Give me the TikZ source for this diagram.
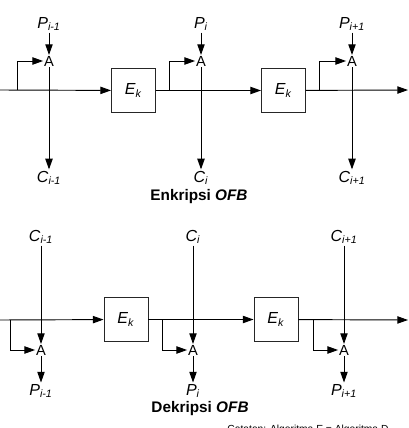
\documentclass[tikz,border=0pt]{standalone}
\usepackage{fontspec}
\setmainfont{Liberation Sans}
\usetikzlibrary{arrows.meta}
\newcommand{\sym}[2]{\textit{#1}\textsubscript{\textit{#2}}}
\begin{document}
\begin{tikzpicture}[x=0.75pt,y=-0.75pt,line width=0.7pt,
  flow/.style={-{Triangle[length=8pt,width=5.5pt]}},
  ebox/.style={draw,black!85,text=black,minimum width=33pt,minimum height=33pt,inner sep=0pt,font=\fontsize{12}{14}\selectfont},
  xop/.style={inner sep=0.4pt,font=\fontsize{11}{13}\selectfont},
  lbl/.style={inner sep=1pt,font=\fontsize{12}{14}\selectfont},
  caption/.style={font=\fontsize{11.5}{14}\selectfont\bfseries}]
\useasboundingbox (0,0) rectangle (408,428);

% enkripsi
\coordinate (in1) at (0,90);
\coordinate (out1) at (408,90);
\node[ebox] (e1) at (133.5,90.5) {\sym{E}{k}};
\node[ebox] (e2) at (283.5,90.5) {\sym{E}{k}};
\node[xop] (a1) at (49,61) {A};
\node[xop] (a2) at (201,61) {A};
\node[xop] (a3) at (352,61) {A};
\node[lbl] (p1) at (49,24) {\sym{P}{i-1}};
\node[lbl] (p2) at (201,24) {\sym{P}{i}};
\node[lbl] (p3) at (352,24) {\sym{P}{i+1}};
\node[lbl] (c1) at (49,178) {\sym{C}{i-1}};
\node[lbl] (c2) at (201,178) {\sym{C}{i}};
\node[lbl] (c3) at (352,178) {\sym{C}{i+1}};
\coordinate (f1) at (17,90);
\coordinate (f2) at (169,90);
\coordinate (f3) at (319,90);

\draw[flow] (in1) -- (e1);
\draw[flow] (e1) -- (e2);
\draw[flow] (e2) -- (out1);
\draw[flow] (f1) |- (a1.west);
\draw[flow] (f2) |- (a2.west);
\draw[flow] (f3) |- (a3.west);
\draw[flow] (p1) -- (a1);
\draw[flow] (p2) -- (a2);
\draw[flow] (p3) -- (a3);
\draw[flow] (a1) -- (c1);
\draw[flow] (a2) -- (c2);
\draw[flow] (a3) -- (c3);
\node[caption] (enk) at (199,197) {Enkripsi \textit{OFB}};

% dekripsi
\coordinate (in2) at (0,320);
\coordinate (out2) at (408,320);
\node[ebox] (e3) at (126,319.5) {\sym{E}{k}};
\node[ebox] (e4) at (276,319.5) {\sym{E}{k}};
\node[lbl] (c4) at (41,237) {\sym{C}{i-1}};
\node[lbl] (c5) at (193,237) {\sym{C}{i}};
\node[lbl] (c6) at (344,237) {\sym{C}{i+1}};
\node[xop] (a4) at (41,350) {A};
\node[xop] (a5) at (193,350) {A};
\node[xop] (a6) at (344,350) {A};
\node[lbl] (p4) at (41,391) {\sym{P}{i-1}};
\node[lbl] (p5) at (193,391) {\sym{P}{i}};
\node[lbl] (p6) at (344,391) {\sym{P}{i+1}};
\coordinate (f4) at (10,320);
\coordinate (f5) at (162,320);
\coordinate (f6) at (313,320);

\draw[flow] (in2) -- (e3);
\draw[flow] (e3) -- (e4);
\draw[flow] (e4) -- (out2);
\draw[flow] (f4) |- (a4.west);
\draw[flow] (f5) |- (a5.west);
\draw[flow] (f6) |- (a6.west);
\draw[flow] (c4) -- (a4);
\draw[flow] (c5) -- (a5);
\draw[flow] (c6) -- (a6);
\draw[flow] (a4) -- (p4);
\draw[flow] (a5) -- (p5);
\draw[flow] (a6) -- (p6);
\node[caption] (dek) at (200,409) {Dekripsi \textit{OFB}};

% footnote, cut by the lower edge as in the source
\node[anchor=base west,inner sep=0pt,font=\fontsize{7.7}{9}\selectfont] (note) at (227,432.5) {Catatan: Algoritma E = Algoritma D};
\end{tikzpicture}
\end{document}
